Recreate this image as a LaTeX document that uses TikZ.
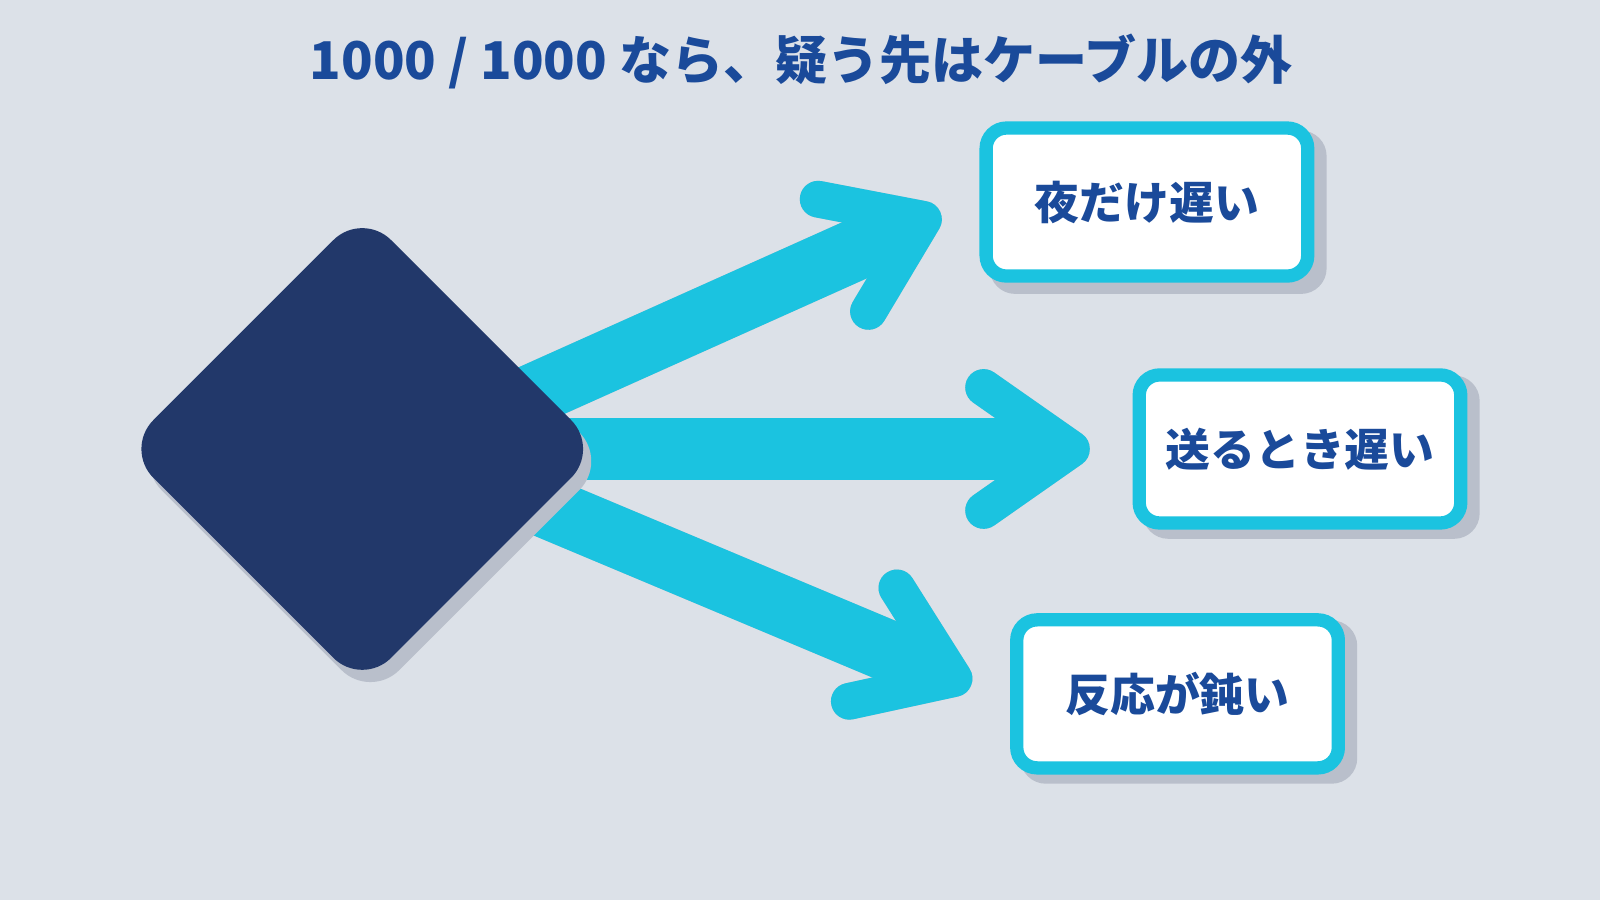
\documentclass[tikz,border=0pt]{standalone}
\usepackage{fontspec}
\setmainfont{Noto Sans CJK JP}
\usetikzlibrary{calc}
\definecolor{bgcol}{HTML}{DCE1E8}
\definecolor{navy}{HTML}{22386A}
\definecolor{titleblue}{HTML}{1A4A9A}
\definecolor{cyanarr}{HTML}{1BC3E0}
\definecolor{shadowcol}{HTML}{B9BFCB}
\tikzset{
  box/.style={draw=cyanarr, line width=0.13cm, fill=white, rounded corners=0.2cm,
    minimum width=3.15cm, minimum height=1.45cm, font=\bfseries\fontsize{12.5}{14}\selectfont, text=titleblue},
  boxshadow/.style={fill=shadowcol, rounded corners=0.25cm, minimum width=3.3cm, minimum height=1.6cm},
  shaft/.style={line width=0.6cm, shorten >=0.3cm},
  chevron/.style={line width=0.36cm, line cap=round, line join=round}
}
\begin{document}
\begin{tikzpicture}[x=0.01cm, y=-0.01cm]
\useasboundingbox[fill=bgcol] (0,0) rectangle (1568,882);
% Title
\node[font=\bfseries\fontsize{14.5}{16}\selectfont, text=titleblue] (title) at (785,60) {1000 / 1000 なら、疑う先はケーブルの外};
% Boxes
\node[boxshadow] at (1135,208) {};
\node[box] (night) at (1124,198) {夜だけ遅い};
\node[boxshadow] at (1285,448) {};
\node[box] (send) at (1274,440) {送るとき遅い};
\node[boxshadow] at (1165,688) {};
\node[box] (react) at (1154,680) {反応が鈍い};
% Arrow anchors
\coordinate (s1) at (470,410);
\coordinate (t1) at (905,215);
\coordinate (s2) at (500,440);
\coordinate (t2) at (1050,440);
\coordinate (s3) at (470,470);
\coordinate (t3) at (935,665);
% Arrows (shadow first, then cyan)
\foreach \s/\t in {s1/t1, s2/t2, s3/t3} {
  \begin{scope}[shift={(8,8)}, shadowcol]
    \draw[shaft] (\s) -- (\t);
    \draw[chevron] ($(\t)!1.05cm!35:(\s)$) -- (\t) -- ($(\t)!1.05cm!-35:(\s)$);
  \end{scope}
  \draw[shaft, cyanarr] (\s) -- (\t);
  \draw[chevron, cyanarr] ($(\t)!1.05cm!35:(\s)$) -- (\t) -- ($(\t)!1.05cm!-35:(\s)$);
}
% Diamond with shadow, on top of shaft starts
\fill[shadowcol, rounded corners=0.4cm] (130,452) -- (363,219) -- (596,452) -- (363,685) -- cycle;
\fill[navy, rounded corners=0.4cm] (122,440) -- (355,207) -- (588,440) -- (355,673) -- cycle;
\end{tikzpicture}
\end{document}
